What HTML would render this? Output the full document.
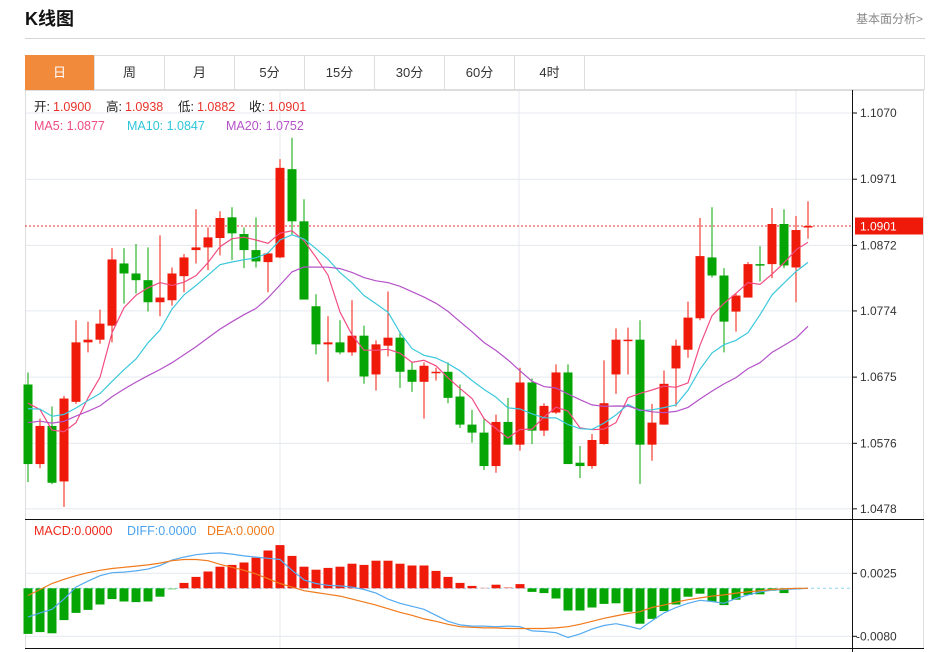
<!DOCTYPE html>
<html><head><meta charset="utf-8">
<style>
body{margin:0;background:#fff;width:933px;height:652px;overflow:hidden;font-family:"Liberation Sans","Noto Sans CJK SC",sans-serif;position:relative}
.abs{position:absolute}
.tab{position:absolute;top:55px;height:35px;width:70px;line-height:35px;text-align:center;font-size:13px;color:#333;border-right:1px solid #ddd;box-sizing:border-box}
</style></head><body>
<div class="abs" style="left:25px;top:5px;font-size:18px;font-weight:bold;color:#111">K线图</div>
<div class="abs" style="left:856px;top:10px;font-size:12px;color:#888">基本面分析&gt;</div>
<div class="abs" style="left:25px;top:38px;width:900px;height:1px;background:#d6d6d6"></div>
<div class="abs" style="left:25px;top:55px;width:900px;height:35px;border:1px solid #ddd;box-sizing:border-box"></div>
<div class="tab" style="left:25px;background:#f28a3c;color:#fff">日</div>
<div class="tab" style="left:95px">周</div>
<div class="tab" style="left:165px">月</div>
<div class="tab" style="left:235px">5分</div>
<div class="tab" style="left:305px">15分</div>
<div class="tab" style="left:375px">30分</div>
<div class="tab" style="left:445px">60分</div>
<div class="tab" style="left:515px">4时</div>

<svg id="chart" class="abs" style="left:0;top:0" width="933" height="652" font-family="Liberation Sans, Noto Sans CJK SC, sans-serif"></svg>

<script>
const opens=[1.0664,1.0545,1.0602,1.0519,1.0638,1.0727,1.0731,1.0752,1.0845,1.0830,1.0820,1.0787,1.0790,1.0826,1.0865,1.0869,1.0883,1.0914,1.0889,1.0865,1.0847,1.0854,1.0986,1.0908,1.0781,1.0724,1.0727,1.0712,1.0737,1.0679,1.0722,1.0734,1.0686,1.0668,1.0681,1.0683,1.0646,1.0604,1.0592,1.0542,1.0608,1.0574,1.0667,1.0595,1.0622,1.0682,1.0547,1.0542,1.0575,1.0679,1.0730,1.0731,1.0574,1.0604,1.0688,1.0716,1.0763,1.0854,1.0827,1.0773,1.0794,1.0844,1.0844,1.0904,1.0839,1.0900];
const highs=[1.0682,1.0613,1.0631,1.0647,1.0760,1.0758,1.0776,1.0868,1.0868,1.0874,1.0869,1.0887,1.0839,1.0859,1.0926,1.0899,1.0923,1.0929,1.0899,1.0914,1.0862,1.1001,1.1033,1.0941,1.0799,1.0766,1.0760,1.0790,1.0752,1.0730,1.0803,1.0743,1.0698,1.0697,1.0689,1.0697,1.0664,1.0626,1.0613,1.0619,1.0644,1.0689,1.0673,1.0636,1.0694,1.0694,1.0572,1.0590,1.0700,1.0748,1.0749,1.0760,1.0635,1.0685,1.0731,1.0788,1.0913,1.0929,1.0838,1.0800,1.0847,1.0871,1.0928,1.0926,1.0916,1.0938];
const lows=[1.0518,1.0539,1.0515,1.0481,1.0635,1.0712,1.0725,1.0727,1.0785,1.0800,1.0773,1.0766,1.0782,1.0802,1.0845,1.0835,1.0857,1.0850,1.0838,1.0839,1.0802,1.0853,1.0887,1.0791,1.0709,1.0668,1.0709,1.0707,1.0665,1.0655,1.0706,1.0659,1.0653,1.0613,1.0670,1.0636,1.0599,1.0577,1.0536,1.0532,1.0574,1.0565,1.0575,1.0587,1.0620,1.0545,1.0524,1.0538,1.0574,1.0650,1.0679,1.0515,1.0550,1.0604,1.0631,1.0704,1.0760,1.0824,1.0712,1.0743,1.0794,1.0818,1.0823,1.0838,1.0787,1.0882];
const closes=[1.0545,1.0602,1.0517,1.0643,1.0727,1.0731,1.0755,1.0851,1.0830,1.0820,1.0787,1.0794,1.0830,1.0854,1.0869,1.0884,1.0913,1.0890,1.0865,1.0848,1.0860,1.0988,1.0908,1.0791,1.0724,1.0727,1.0712,1.0737,1.0676,1.0724,1.0734,1.0683,1.0668,1.0692,1.0683,1.0644,1.0604,1.0592,1.0542,1.0608,1.0574,1.0667,1.0595,1.0632,1.0682,1.0545,1.0542,1.0581,1.0636,1.0731,1.0731,1.0574,1.0607,1.0665,1.0722,1.0764,1.0856,1.0827,1.0758,1.0797,1.0844,1.0842,1.0904,1.0842,1.0895,1.0901];
const priorCloses=[1.0560,1.0575,1.0590,1.0570,1.0585,1.0595,1.0580,1.0600,1.0610,1.0595,1.0610,1.0625,1.0615,1.0630,1.0620,1.0650,1.0670,1.0655,1.0660];
const macdHist=[-0.0076,-0.0073,-0.0075,-0.0053,-0.0041,-0.0036,-0.0027,-0.0018,-0.0022,-0.0023,-0.0022,-0.0014,-0.0002,0.0009,0.0019,0.0028,0.0036,0.0039,0.0043,0.0051,0.0063,0.0072,0.0054,0.0036,0.0031,0.0034,0.0036,0.0041,0.0039,0.0046,0.0046,0.0041,0.0038,0.0038,0.0029,0.0019,0.0009,0.0004,0.0001,0.0006,0.0002,0.0007,-0.0006,-0.0008,-0.0017,-0.0037,-0.0037,-0.0032,-0.0026,-0.0025,-0.0039,-0.0059,-0.0051,-0.0038,-0.0027,-0.0014,-0.0009,-0.0022,-0.0028,-0.0019,-0.0011,-0.0010,-0.0004,-0.0008,-0.0002,0.0000];
const diffVals=[-0.0048,-0.0041,-0.0035,-0.0018,0.0002,0.0012,0.0021,0.0026,0.0027,0.0029,0.0032,0.0038,0.0047,0.0052,0.0056,0.0058,0.0059,0.0057,0.0054,0.0052,0.0050,0.0048,0.0030,0.0014,0.0008,0.0005,0.0004,0.0002,-0.0002,-0.0008,-0.0018,-0.0025,-0.0030,-0.0035,-0.0045,-0.0055,-0.0061,-0.0063,-0.0063,-0.0064,-0.0063,-0.0064,-0.0071,-0.0072,-0.0074,-0.0082,-0.0076,-0.0068,-0.0062,-0.0059,-0.0063,-0.0068,-0.0054,-0.0041,-0.0032,-0.0025,-0.0020,-0.0022,-0.0025,-0.0017,-0.0011,-0.0006,-0.0003,-0.0002,-0.0001,0.0000];
const deaVals=[-0.0012,-0.0002,0.0008,0.0015,0.0021,0.0026,0.0030,0.0033,0.0035,0.0037,0.0039,0.0042,0.0046,0.0048,0.0048,0.0046,0.0040,0.0035,0.0030,0.0024,0.0016,0.0008,0.0002,-0.0004,-0.0007,-0.0010,-0.0013,-0.0018,-0.0023,-0.0028,-0.0034,-0.0040,-0.0045,-0.0051,-0.0055,-0.0060,-0.0064,-0.0065,-0.0066,-0.0066,-0.0067,-0.0067,-0.0067,-0.0067,-0.0066,-0.0064,-0.0060,-0.0055,-0.0050,-0.0046,-0.0042,-0.0039,-0.0032,-0.0028,-0.0023,-0.0019,-0.0016,-0.0013,-0.0011,-0.0008,-0.0006,-0.0004,-0.0002,-0.0001,0.0000,0.0000];
const priceTicks=[1.1070,1.0971,1.0872,1.0774,1.0675,1.0576,1.0478];
const macdTicks=[0.0025,-0.0080];
const lastPrice=1.0901;

const NS='http://www.w3.org/2000/svg';
const svg=document.getElementById('chart');
function mk(tag,attrs,parent){const e=document.createElementNS(NS,tag);for(const k in attrs)e.setAttribute(k,attrs[k]);(parent||svg).appendChild(e);return e;}
const xAt=i=>28+i*12;
const yP=p=>113+(1.1070-p)/0.00014955;
const yM=v=>588.3-v*6000;
const RED='#f01a0a',GREEN='#05a505';

// grids
priceTicks.forEach(t=>{const l=mk('line',{x1:25,x2:852,y1:yP(t),y2:yP(t),stroke:'#e4e9ef','stroke-width':1});

});
macdTicks.forEach(t=>{const l=mk('line',{x1:25,x2:852,y1:yM(t),y2:yM(t),stroke:'#e4e9ef','stroke-width':1});

});
[280,519,796].forEach(x=>{const l=mk('line',{x1:x,x2:x,y1:90,y2:648,stroke:'#e4e9ef','stroke-width':1});

});
// frame
mk('rect',{x:25.5,y:90.5,width:898,height:558,fill:'none',stroke:'#ddd'});
const f1=mk('line',{x1:25,x2:924,y1:519.5,y2:519.5,stroke:'#111'});


mk('line',{x1:25,x2:924,y1:648.5,y2:648.5,stroke:'#111'});
const ax=mk('line',{x1:852.5,x2:852.5,y1:90,y2:652,stroke:'#111'});



priceTicks.forEach(t=>{const y=yP(t);mk('line',{x1:852,x2:857,y1:y,y2:y,stroke:'#111'});
const tx=mk('text',{x:860,y:y+4,'font-size':12,fill:'#333'});tx.textContent=t.toFixed(4);

});
macdTicks.forEach(t=>{const y=yM(t);mk('line',{x1:852,x2:857,y1:y,y2:y,stroke:'#111'});
const tx=mk('text',{x:t<0?856:860,y:y+4,'font-size':12,fill:'#333'});tx.textContent=t.toFixed(4);

});

// last price line
const ly=yP(lastPrice);
const dl=mk('line',{x1:25,x2:852,y1:ly,y2:ly,stroke:'#e53030','stroke-dasharray':'2,2','stroke-width':1});


const lb=mk('rect',{x:855,y:ly-8.5,width:68,height:17,fill:'#f01a0a'});


const lt=mk('text',{x:860,y:ly+4.5,'font-size':12,fill:'#fff'});lt.textContent=lastPrice.toFixed(4);

// candles
closes.forEach((c,i)=>{const o=opens[i],up=c>=o,col=up?RED:GREEN,x=xAt(i);
const g=mk('g',{});


mk('line',{x1:x,x2:x,y1:yP(highs[i]),y2:yP(lows[i]),stroke:col,'stroke-width':1},g);
const top=yP(Math.max(o,c)),bot=yP(Math.min(o,c));
mk('rect',{x:x-4.5,y:top,width:9,height:Math.max(1.5,bot-top),fill:col},g);});

// MAs
const all=priorCloses.concat(closes);
function ma(n){return closes.map((_,i)=>{const j=i+priorCloses.length;let s=0,k=0;for(let q=j-n+1;q<=j;q++){if(q>=0){s+=all[q];k++;}}return s/k;});}
[[5,'#f04c82','ma5-line'],[10,'#3cc8dc','ma10-line'],[20,'#b452c8','ma20-line']].forEach(([n,col,name])=>{
const v=ma(n);const p=mk('polyline',{points:v.map((m,i)=>xAt(i)+','+yP(m).toFixed(1)).join(' '),fill:'none',stroke:col,'stroke-width':1.2});

});

// MACD
const z=mk('line',{x1:25,x2:852,y1:yM(0),y2:yM(0),stroke:'#8fd3ee','stroke-dasharray':'3,3'});


macdHist.forEach((v,i)=>{if(v===0)return;const x=xAt(i),y0=yM(0),y1=yM(v);
const r=mk('rect',{x:x-4.5,y:Math.min(y0,y1),width:9,height:Math.abs(y1-y0),fill:Math.abs(v)<0.00025?(v>0?'#f49a94':'#8ed48e'):(v>0?RED:GREEN)});

});
const dp=mk('polyline',{points:diffVals.map((v,i)=>xAt(i)+','+yM(v).toFixed(1)).join(' '),fill:'none',stroke:'#55aaf0','stroke-width':1.2});


const ep=mk('polyline',{points:deaVals.map((v,i)=>xAt(i)+','+yM(v).toFixed(1)).join(' '),fill:'none',stroke:'#f07a1c','stroke-width':1.2});



// legends
function txt(x,y,s,col,name){const t=mk('text',{x:x,y:y,'font-size':12.5,fill:col});t.textContent=s;

return t;}
txt(34,111,'开:','#222','open-label');txt(53,111,'1.0900','#e8322a','open-value');
txt(106,111,'高:','#222','high-label');txt(125,111,'1.0938','#e8322a','high-value');
txt(178,111,'低:','#222','low-label');txt(197,111,'1.0882','#e8322a','low-value');
txt(249,111,'收:','#222','close-label');txt(268,111,'1.0901','#e8322a','close-value');
txt(34,130,'MA5: 1.0877','#f04c82','ma5-legend');
txt(127,130,'MA10: 1.0847','#2ec5d8','ma10-legend');
txt(226,130,'MA20: 1.0752','#b452c8','ma20-legend');
txt(34,535,'MACD:0.0000','#f0281c','macd-legend');
txt(127,535,'DIFF:0.0000','#4aa3ee','diff-legend');
txt(207,535,'DEA:0.0000','#f07a1c','dea-legend');
</script>
</body></html>
